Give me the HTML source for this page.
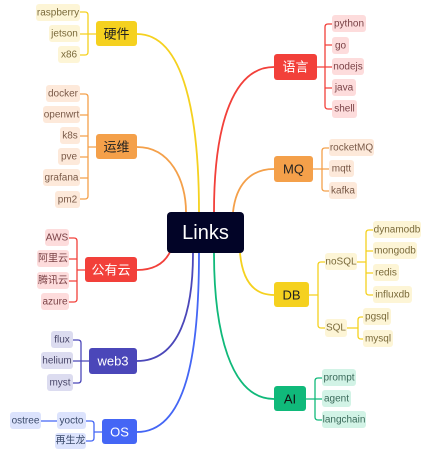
<!DOCTYPE html>
<html><head><meta charset="utf-8"><style>
body{margin:0;background:#fff;width:433px;height:462px;overflow:hidden}
svg{display:block}
text{font-family:"Liberation Sans","Noto Sans CJK SC",sans-serif;text-anchor:middle;dominant-baseline:central}
.l{font-size:10px}
.m{font-size:13px}
</style></head><body>
<svg width="433" height="462" viewBox="0 0 433 462" fill="none" stroke-width="1.8">
<path d="M137,34 C185,34 199,120 199,212" stroke="#f5d11f"/>
<path d="M137,147 C170,147 186,180 186,212" stroke="#f4a04a"/>
<path d="M137,270 C155,270 165,262 170,252" stroke="#f2403a"/>
<path d="M137,361 C180,361 193,310 193,253" stroke="#4b47b9"/>
<path d="M137,432 C190,432 199,340 199,253" stroke="#4466f5"/>
<path d="M274,67 C235,67 214,120 214,212" stroke="#f2403a"/>
<path d="M274,169 C250,169 236,185 233,212" stroke="#f4a04a"/>
<path d="M274,295 C250,295 242,275 240,253" stroke="#f5d11f"/>
<path d="M274,399 C230,399 214,330 214,253" stroke="#10b97a"/>
<g stroke="#f5d11f" stroke-width="1.3"><path d="M96,34H88 M80,12H85Q88,12 88,15V52Q88,55 85,55H80 M80,34H88"/></g>
<g stroke="#f4a04a" stroke-width="1.3"><path d="M96,147H88 M80,94H85Q88,94 88,97V196Q88,199 85,199H80 M80,115H88 M80,136H88 M80,157H88 M80,178H88"/></g>
<g stroke="#f2403a" stroke-width="1.3"><path d="M85,270H77 M69,238H74Q77,238 77,241V299Q77,302 74,302H69 M69,259H77 M69,281H77"/></g>
<g stroke="#4b47b9" stroke-width="1.3"><path d="M89,361H81 M73,340H78Q81,340 81,343V380Q81,383 78,383H73 M73,361H81"/></g>
<g stroke="#4466f5" stroke-width="1.3"><path d="M102,432H94 M86,421H91Q94,421 94,424V438Q94,441 91,441H86 M41,421H57"/></g>
<g stroke="#f2403a" stroke-width="1.3"><path d="M317,67H325 M332,24H328Q325,24 325,27V106Q325,109 328,109H332 M325,45H332 M325,67H332 M325,88H332"/></g>
<g stroke="#f4a04a" stroke-width="1.3"><path d="M313,169H322 M329,148H325Q322,148 322,151V188Q322,191 325,191H329 M322,169H329"/></g>
<g stroke="#f5d11f" stroke-width="1.3"><path d="M309,295H318 M325,262H321Q318,262 318,265V325Q318,328 321,328H325 M357,262H366 M373,230H369Q366,230 366,233V292Q366,295 369,295H373 M366,251H373 M366,273H373 M347,328H358 M363,317H361Q358,317 358,320V336Q358,339 361,339H363"/></g>
<g stroke="#10b97a" stroke-width="1.3"><path d="M306,399H315 M322,378H318Q315,378 315,381V417Q315,420 318,420H322 M315,399H322"/></g>
<rect x="167" y="212" width="77" height="41" rx="4" fill="#020427"/>
<text x="205.5" y="233" fill="#fff" style="font-size:20px">Links</text>
<g stroke="none">
<rect x="96" y="21" width="41" height="25" rx="3" fill="#f5d11f"/><text class="m" x="116.5" y="34" fill="#222">硬件</text>
<rect x="96" y="134" width="41" height="25" rx="3" fill="#f4a04a"/><text class="m" x="116.5" y="147" fill="#222">运维</text>
<rect x="85" y="257" width="52" height="25" rx="3" fill="#f2403a"/><text class="m" x="111" y="270" fill="#fff">公有云</text>
<rect x="89" y="348" width="48" height="26" rx="3" fill="#4b47b9"/><text class="m" x="113" y="361" fill="#fff">web3</text>
<rect x="102" y="419" width="35" height="25" rx="3" fill="#4466f5"/><text class="m" x="119.5" y="432" fill="#fff">OS</text>
<rect x="274" y="54" width="43" height="26" rx="3" fill="#f2403a"/><text class="m" x="295.5" y="67" fill="#fff">语言</text>
<rect x="274" y="156" width="39" height="26" rx="3" fill="#f4a04a"/><text class="m" x="293.5" y="169" fill="#222">MQ</text>
<rect x="274" y="282" width="35" height="25" rx="3" fill="#f5d11f"/><text class="m" x="291.5" y="295" fill="#222">DB</text>
<rect x="274" y="386" width="32" height="25" rx="3" fill="#10b97a"/><text class="m" x="290" y="399" fill="#111">AI</text>
</g>
<g stroke="none" class="l">
<g fill="#fdf5d6"><rect x="36" y="4" width="44" height="17" rx="3"/><rect x="49" y="25" width="31" height="17" rx="3"/><rect x="58" y="46" width="22" height="17" rx="3"/>
<rect x="325" y="253" width="32" height="17" rx="3"/><rect x="325" y="319" width="22" height="18" rx="3"/>
<rect x="373" y="221" width="48" height="17" rx="3"/><rect x="373" y="242" width="44" height="17" rx="3"/><rect x="373" y="264" width="26" height="17" rx="3"/><rect x="373" y="286" width="39" height="17" rx="3"/>
<rect x="363" y="308" width="28" height="17" rx="3"/><rect x="363" y="330" width="30" height="17" rx="3"/></g>
<g fill="#7a6a3a"><text class="l" x="58" y="13">raspberry</text><text class="l" x="64.5" y="34">jetson</text><text class="l" x="69" y="55">x86</text>
<text class="l" x="341" y="262">noSQL</text><text class="l" x="336" y="328">SQL</text>
<text class="l" x="397" y="230">dynamodb</text><text class="l" x="395" y="251">mongodb</text><text class="l" x="386" y="273">redis</text><text class="l" x="392.5" y="295">influxdb</text>
<text class="l" x="377" y="317">pgsql</text><text class="l" x="378" y="339">mysql</text></g>
<g fill="#fde9da"><rect x="46" y="85" width="34" height="17" rx="3"/><rect x="43" y="106" width="37" height="17" rx="3"/><rect x="60" y="127" width="20" height="17" rx="3"/><rect x="58" y="148" width="22" height="17" rx="3"/><rect x="43" y="169" width="37" height="17" rx="3"/><rect x="55" y="191" width="25" height="17" rx="3"/>
<rect x="329" y="139" width="45" height="17" rx="3"/><rect x="329" y="160" width="25" height="17" rx="3"/><rect x="329" y="182" width="28" height="17" rx="3"/></g>
<g fill="#7a5a48"><text class="l" x="63" y="94">docker</text><text class="l" x="61.5" y="115">openwrt</text><text class="l" x="70" y="136">k8s</text><text class="l" x="69" y="157">pve</text><text class="l" x="61.5" y="178">grafana</text><text class="l" x="67.5" y="200">pm2</text>
<text class="l" x="351.5" y="148">rocketMQ</text><text class="l" x="341.5" y="169">mqtt</text><text class="l" x="343" y="191">kafka</text></g>
<g fill="#fddcdc"><rect x="45" y="229" width="24" height="17" rx="3"/><rect x="37" y="250" width="32" height="17" rx="3"/><rect x="37" y="272" width="32" height="17" rx="3"/><rect x="41" y="293" width="28" height="17" rx="3"/>
<rect x="332" y="15" width="34" height="17" rx="3"/><rect x="332" y="37" width="17" height="17" rx="3"/><rect x="332" y="58" width="32" height="17" rx="3"/><rect x="332" y="79" width="24" height="17" rx="3"/><rect x="332" y="100" width="25" height="18" rx="3"/></g>
<g fill="#7a4246"><text class="l" x="57" y="238">AWS</text><text class="l" x="53" y="259">阿里云</text><text class="l" x="53" y="281">腾讯云</text><text class="l" x="55" y="302">azure</text>
<text class="l" x="349" y="24">python</text><text class="l" x="340.5" y="46">go</text><text class="l" x="348" y="67">nodejs</text><text class="l" x="344" y="88">java</text><text class="l" x="344.5" y="109">shell</text></g>
<g fill="#dcdcf0"><rect x="51" y="331" width="22" height="17" rx="3"/><rect x="41" y="352" width="32" height="17" rx="3"/><rect x="47" y="374" width="26" height="17" rx="3"/></g>
<g fill="#4a486a"><text class="l" x="62" y="340">flux</text><text class="l" x="57" y="361">helium</text><text class="l" x="60" y="383">myst</text></g>
<g fill="#dce3fd"><rect x="57" y="412" width="29" height="17" rx="3"/><rect x="55" y="433" width="31" height="16" rx="3"/><rect x="10" y="412" width="31" height="17" rx="3"/></g>
<g fill="#3a4a6a"><text class="l" x="71.5" y="421">yocto</text><text class="l" x="70.5" y="441">再生龙</text><text class="l" x="25.5" y="421">ostree</text></g>
<g fill="#d2f3e6"><rect x="322" y="369" width="34" height="17" rx="3"/><rect x="322" y="390" width="29" height="17" rx="3"/><rect x="322" y="411" width="44" height="17" rx="3"/></g>
<g fill="#3a6a5a"><text class="l" x="339" y="378">prompt</text><text class="l" x="336.5" y="399">agent</text><text class="l" x="344" y="420">langchain</text></g>
</g>
</svg>
</body></html>
